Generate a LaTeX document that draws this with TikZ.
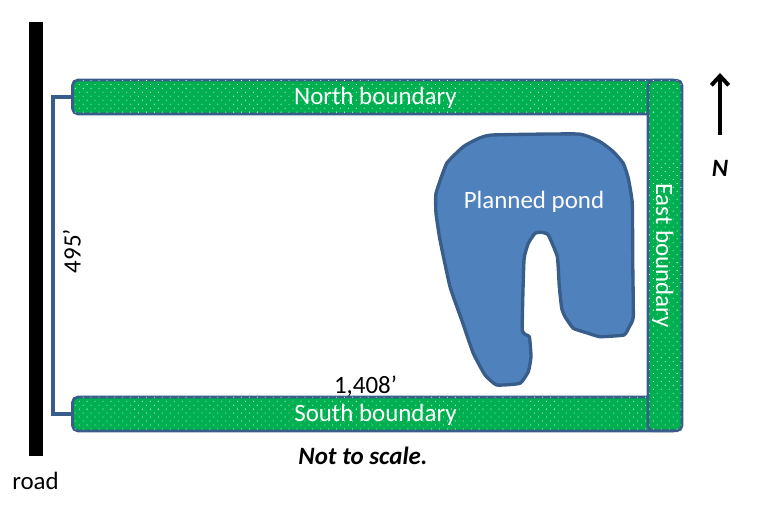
\documentclass[tikz,border=0pt]{standalone}
\usepackage{fontspec}
\setmainfont{Carlito}
\usetikzlibrary{arrows.meta,patterns.meta}
\definecolor{edgeblue}{HTML}{385D8A}
\definecolor{pondblue}{HTML}{4F81BD}
\definecolor{strip}{HTML}{00B050}
\tikzset{
  boundary/.style={draw=edgeblue,line width=2pt,fill=strip,rounded corners=4pt,inner sep=0pt,outer sep=0pt,
    text=white,font=\fontsize{18.7}{18.7}\selectfont,text height=15pt,text depth=3pt,
    postaction={pattern={Dots[radius=0.42pt,distance=4.2pt,angle=45]},pattern color=white}},
  label/.style={font=\fontsize{18.7}{18.7}\selectfont}
}
\begin{document}
\begin{tikzpicture}[x=0.75pt,y=-0.75pt]
    \useasboundingbox (0,0) rectangle (772,520);
    \node[fill=black,inner sep=0pt,minimum width=10.5pt,minimum height=325.5pt] (road) at (36,239) {};
    \node[label] (roadlabel) at (35.5,481) {road};
    % boundaries
    \node[boundary,minimum width=454.5pt,minimum height=25.5pt] (north) at (375.5,97) {North boundary};
    \node[boundary,minimum width=454.5pt,minimum height=25.5pt] (south) at (375.5,414) {South boundary};
    \node[boundary,rotate=-90,text height=16.5pt,minimum width=263pt,minimum height=25.5pt] (east) at (665,255.5) {East boundary};
    % dimension
    \draw[edgeblue,line width=2.8pt] (north.west) -- ++(-19.5,0) |- (south.west);
    \node[label,rotate=90] (width) at (72,251) {495’};
    \node[label] (length) at (365.5,386) {1,408’};
    % pond
    \draw[draw=edgeblue,line width=2.5pt,fill=pondblue,line join=round] plot[smooth cycle,tension=0.25] coordinates {
        (491.7,135) (578.3,134) (600,141.7) (613.3,151.7) (623.3,163.3) (628.3,178.3) (632.3,203.3)
        (632.7,260) (633.3,316.7) (629.3,326.7) (624,335) (600,336.7) (588.3,333.3) (573.3,328.3)
        (565,316.7) (561.7,308.3) (559.3,286.7) (557.3,256.7) (548.3,235) (541.7,232.3) (535,233.3)
        (528.3,243.3) (524,260) (522.3,330) (529.3,336.7) (531,356.7) (528.3,371.7) (520,383.3)
        (496.7,385) (485,375) (473.3,353.3) (461.7,320) (450,286.7) (440,240) (436,213.3)
        (436,193.3) (446.7,163.3) (463.3,146.7) (476.7,139.3)};
    \node[label,text=white] (pond) at (534,201.5) {Planned pond};
    % north arrow
    \coordinate (ntail) at (720,135);
    \coordinate (nhead) at (720,73);
    \draw[line width=3pt,-{Straight Barb[length=7pt,width=13pt]}] (ntail) -- (nhead);
    \node[label,font=\fontsize{18.7}{18.7}\selectfont\bfseries\itshape] (nlabel) at (720,168) {N};
    \node[label,font=\fontsize{18.7}{18.7}\selectfont\bfseries\itshape] (note) at (363,456) {Not to scale.};
\end{tikzpicture}
\end{document}
